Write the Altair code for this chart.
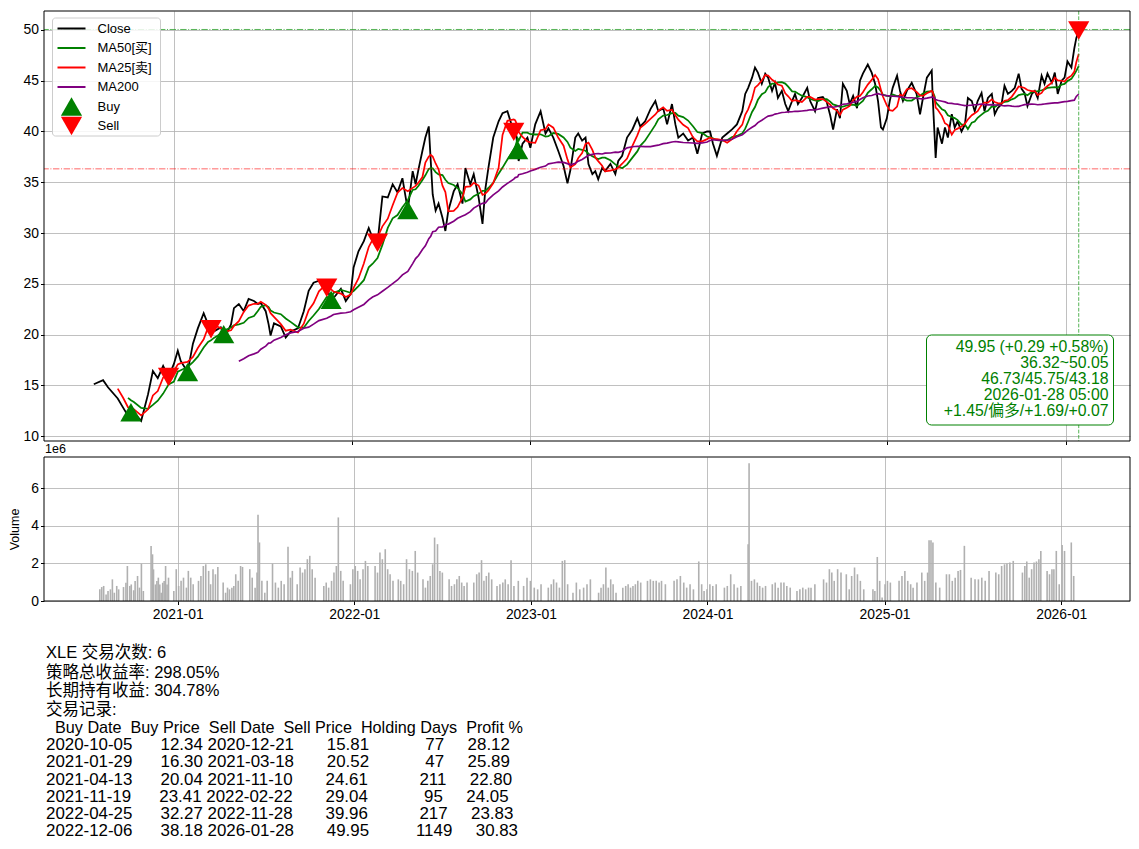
import altair as alt
import pandas as pd

FONT = "Liberation Sans, Noto Sans CJK SC, sans-serif"

# ---------------- data ----------------
close_dates = [
    "2020-07-21", "2020-08-09", "2020-08-19", "2020-09-08", "2020-09-19", "2020-09-29", "2020-10-05",
    "2020-10-11", "2020-10-26", "2020-11-09", "2020-11-19", "2020-11-29", "2020-12-10", "2020-12-21",
    "2021-01-01", "2021-01-09", "2021-01-15", "2021-01-29", "2021-02-09", "2021-02-19", "2021-03-03", "2021-03-12",
    "2021-03-18", "2021-03-24", "2021-04-07", "2021-04-13", "2021-04-17", "2021-04-28", "2021-05-04", "2021-05-14",
    "2021-05-24", "2021-06-03", "2021-06-14", "2021-06-22", "2021-06-28", "2021-07-08", "2021-07-14", "2021-07-18",
    "2021-07-25", "2021-08-08", "2021-08-18", "2021-08-28", "2021-09-12", "2021-09-24", "2021-10-04", "2021-10-14",
    "2021-10-25", "2021-11-10", "2021-11-19", "2021-11-24", "2021-12-09", "2021-12-19", "2021-12-29",
    "2022-01-04", "2022-01-14", "2022-01-25", "2022-02-04", "2022-02-12", "2022-02-22", "2022-03-04", "2022-03-15",
    "2022-03-25", "2022-04-04", "2022-04-14", "2022-04-25", "2022-05-05", "2022-05-11", "2022-05-17", "2022-05-25",
    "2022-05-31", "2022-06-07", "2022-06-11", "2022-06-15", "2022-06-21", "2022-06-27", "2022-07-05", "2022-07-11",
    "2022-07-17", "2022-07-28", "2022-08-05", "2022-08-15", "2022-08-21", "2022-08-31", "2022-09-07", "2022-09-17",
    "2022-09-25", "2022-10-01", "2022-10-07", "2022-10-17", "2022-10-28", "2022-11-05", "2022-11-15", "2022-11-28",
    "2022-12-01", "2022-12-06", "2022-12-08", "2022-12-16", "2022-12-26",
    "2023-01-01", "2023-01-11", "2023-01-22", "2023-02-01", "2023-02-07", "2023-02-17", "2023-02-27", "2023-03-10",
    "2023-03-18", "2023-03-24", "2023-04-03", "2023-04-09", "2023-04-17", "2023-04-24", "2023-04-30", "2023-05-08",
    "2023-05-14", "2023-05-20", "2023-05-28", "2023-06-03", "2023-06-14", "2023-06-24", "2023-06-30", "2023-07-08",
    "2023-07-18", "2023-07-29", "2023-08-08", "2023-08-14", "2023-08-24", "2023-09-04", "2023-09-14", "2023-09-20",
    "2023-09-30", "2023-10-08", "2023-10-18", "2023-10-25", "2023-10-31", "2023-11-10", "2023-11-20", "2023-11-30",
    "2023-12-09", "2023-12-19", "2023-12-29",
    "2024-01-04", "2024-01-10", "2024-01-18", "2024-01-29", "2024-02-08", "2024-02-18", "2024-02-28", "2024-03-10",
    "2024-03-16", "2024-03-22", "2024-03-30", "2024-04-05", "2024-04-11", "2024-04-19", "2024-04-26", "2024-05-02",
    "2024-05-10", "2024-05-16", "2024-05-22", "2024-05-30", "2024-06-06", "2024-06-12", "2024-06-20", "2024-06-26",
    "2024-07-02", "2024-07-10", "2024-07-21", "2024-07-27", "2024-08-06", "2024-08-12", "2024-08-22", "2024-08-30",
    "2024-09-06", "2024-09-12", "2024-09-20", "2024-09-26", "2024-10-02", "2024-10-10", "2024-10-16", "2024-10-23",
    "2024-10-31", "2024-11-06", "2024-11-12", "2024-11-22", "2024-11-30", "2024-12-07", "2024-12-13", "2024-12-19",
    "2024-12-23", "2024-12-31",
    "2025-01-06", "2025-01-12", "2025-01-21", "2025-01-27", "2025-02-02", "2025-02-10", "2025-02-20", "2025-03-02",
    "2025-03-09", "2025-03-15", "2025-03-23", "2025-04-02", "2025-04-04", "2025-04-08", "2025-04-10", "2025-04-14",
    "2025-04-23", "2025-04-29", "2025-05-05", "2025-05-13", "2025-05-19", "2025-05-25", "2025-06-02", "2025-06-09",
    "2025-06-15", "2025-06-23", "2025-06-29", "2025-07-05", "2025-07-13", "2025-07-19", "2025-07-26", "2025-08-03",
    "2025-08-09", "2025-08-15", "2025-08-23", "2025-08-29", "2025-09-05", "2025-09-13", "2025-09-19", "2025-09-27",
    "2025-10-03", "2025-10-09", "2025-10-15", "2025-10-24", "2025-10-30", "2025-11-05", "2025-11-13", "2025-11-19",
    "2025-11-25", "2025-12-04", "2025-12-10", "2025-12-16", "2025-12-24", "2025-12-30",
    "2026-01-05", "2026-01-13", "2026-01-19", "2026-01-23", "2026-01-28",
]
close_values = [
    15.1, 15.5, 14.8, 13.7, 12.8, 12.0, 12.34,
    12.3, 11.5, 14.1, 16.4, 15.7, 16.9, 15.81,
    17.1, 18.4, 17.4, 16.30, 19.1, 20.6, 22.1, 21.0,
    20.52, 20.3, 20.7, 20.04, 19.9, 21.0, 22.6, 23.0,
    22.3, 23.5, 23.3, 23.0, 23.1, 22.3, 21.0, 19.9,
    21.1, 20.8, 19.7, 20.3, 20.6, 22.3, 24.3, 25.1,
    25.3, 24.61, 23.41, 23.6, 24.5, 23.3, 24.0,
    26.6, 28.2, 29.2, 30.5, 29.5, 29.04, 33.6, 33.5,
    34.8, 34.0, 35.4, 32.27, 36.1, 34.8, 36.3, 38.1,
    39.4, 40.5, 37.1, 33.8, 32.2, 32.9, 31.5, 30.2,
    32.2, 34.1, 34.8, 32.9, 36.4, 34.8, 35.8, 33.5,
    30.9, 34.4, 36.4, 39.4, 41.0, 41.8, 42.0, 39.96,
    40.7, 38.18, 37.1, 38.8, 39.4,
    38.4, 40.7, 42.0, 39.8, 40.3, 39.4, 38.1, 36.6,
    34.9, 36.2, 39.4, 39.8, 39.1, 39.4, 36.8, 35.8,
    36.1, 35.3, 36.4, 36.1, 36.8, 35.8, 37.1, 37.6,
    39.4, 40.2, 41.3, 40.5, 41.0, 42.2, 43.0, 42.0,
    42.3, 40.7, 42.7, 40.7, 39.4, 39.8, 39.1, 39.4,
    37.8, 39.8, 40.0,
    40.0, 38.8, 37.6, 39.4, 39.8, 40.2, 40.7, 42.0,
    43.7, 44.3, 45.3, 46.3, 45.8, 44.7, 45.7, 45.3,
    44.0, 44.8, 43.3, 44.0, 42.7, 42.0, 43.0, 43.7,
    42.7, 43.3, 44.3, 43.0, 42.0, 43.3, 43.4, 42.9,
    41.6, 40.2, 42.2, 41.3, 44.7, 44.0, 42.7, 43.5,
    42.3, 45.0, 45.7, 46.6, 45.8, 44.7, 43.0, 40.4,
    40.2, 41.3,
    43.0, 44.3, 45.5, 44.0, 43.0, 44.0, 44.8, 43.7,
    41.7, 43.3, 45.3, 46.0, 43.3, 39.4, 37.4, 40.4,
    38.8, 40.4, 39.4, 41.7, 40.4, 41.0, 40.0, 40.7,
    43.3, 43.0, 42.0, 43.0, 43.8, 42.0, 43.3, 43.7,
    41.7, 42.3, 42.7, 44.5, 43.7, 44.0, 44.3, 45.7,
    44.2, 43.8, 42.5, 43.7, 44.0, 43.3, 45.5, 44.7,
    45.7, 44.8, 45.8, 43.7, 45.0, 45.3,
    46.9, 46.3, 48.2, 49.2, 49.95,
]

vol_dates = [
    "2020-07-24", "2020-07-28", "2020-08-01", "2020-08-06", "2020-08-10", "2020-08-15", "2020-08-19", "2020-08-23", "2020-08-28", "2020-09-01",
    "2020-09-11", "2020-09-16", "2020-09-19", "2020-09-24", "2020-09-27", "2020-10-02", "2020-10-05", "2020-10-10", "2020-10-14", "2020-10-18", "2020-10-22",
    "2020-11-07", "2020-11-10", "2020-11-12", "2020-11-16", "2020-11-19", "2020-11-22", "2020-11-25", "2020-11-28", "2020-12-01", "2020-12-04", "2020-12-07", "2020-12-10", "2020-12-13",
    "2020-12-24", "2020-12-29",
    "2021-01-03", "2021-01-08", "2021-01-13", "2021-01-19", "2021-01-23", "2021-01-28", "2021-02-02",
    "2021-02-13", "2021-02-18", "2021-02-23", "2021-02-28", "2021-03-06", "2021-03-10", "2021-03-15", "2021-03-20", "2021-03-25",
    "2021-04-05", "2021-04-10", "2021-04-14", "2021-04-18", "2021-04-23", "2021-04-27", "2021-05-01", "2021-05-06", "2021-05-11", "2021-05-15",
    "2021-05-30", "2021-06-04", "2021-06-10", "2021-06-14", "2021-06-16", "2021-06-19", "2021-06-24", "2021-06-30", "2021-07-05",
    "2021-07-16", "2021-07-22", "2021-07-28", "2021-08-03", "2021-08-09", "2021-08-17", "2021-08-22", "2021-08-26",
    "2021-09-05", "2021-09-11", "2021-09-16", "2021-09-21", "2021-09-26", "2021-10-01", "2021-10-06", "2021-10-12",
    "2021-10-30", "2021-11-04", "2021-11-09", "2021-11-15", "2021-11-20", "2021-11-25", "2021-11-29", "2021-12-04", "2021-12-09",
    "2021-12-24", "2021-12-29",
    "2022-01-03", "2022-01-08", "2022-01-13", "2022-01-19", "2022-01-24", "2022-01-29",
    "2022-02-13", "2022-02-18", "2022-02-23", "2022-02-28", "2022-03-06", "2022-03-11", "2022-03-16", "2022-03-22",
    "2022-04-02", "2022-04-07", "2022-04-13", "2022-04-19", "2022-04-25", "2022-05-01", "2022-05-07", "2022-05-12",
    "2022-05-23", "2022-05-28", "2022-06-02", "2022-06-07", "2022-06-12", "2022-06-16", "2022-06-22", "2022-06-27", "2022-07-02",
    "2022-07-16", "2022-07-21", "2022-07-27", "2022-08-01", "2022-08-06", "2022-08-11", "2022-08-16", "2022-08-22",
    "2022-09-05", "2022-09-11", "2022-09-16", "2022-09-21", "2022-09-26", "2022-10-01", "2022-10-06", "2022-10-12",
    "2022-10-23", "2022-10-29", "2022-11-04", "2022-11-09", "2022-11-15", "2022-11-21", "2022-11-27", "2022-12-06",
    "2022-12-17", "2022-12-24", "2022-12-31",
    "2023-01-08", "2023-01-15", "2023-01-22",
    "2023-02-06", "2023-02-12", "2023-02-17", "2023-02-23", "2023-03-01", "2023-03-07", "2023-03-12", "2023-03-18",
    "2023-03-29", "2023-04-05", "2023-04-12", "2023-04-20", "2023-04-27", "2023-05-04",
    "2023-05-21", "2023-05-26", "2023-05-31", "2023-06-05", "2023-06-10", "2023-06-15", "2023-06-20", "2023-06-26",
    "2023-07-10", "2023-07-16", "2023-07-21", "2023-07-26", "2023-07-31", "2023-08-05", "2023-08-10", "2023-08-16",
    "2023-08-30", "2023-09-05", "2023-09-11", "2023-09-17", "2023-09-23", "2023-09-28", "2023-10-06",
    "2023-10-24", "2023-10-30", "2023-11-06", "2023-11-13", "2023-11-19", "2023-11-26", "2023-12-03",
    "2023-12-14", "2023-12-20", "2023-12-25", "2023-12-31",
    "2024-01-06", "2024-01-12", "2024-01-19",
    "2024-02-05", "2024-02-11", "2024-02-18", "2024-02-25", "2024-03-03", "2024-03-10",
    "2024-03-25", "2024-03-27", "2024-04-01", "2024-04-07", "2024-04-13", "2024-04-18", "2024-04-24", "2024-04-30",
    "2024-05-14", "2024-05-20", "2024-05-26", "2024-06-01", "2024-06-07", "2024-06-13", "2024-06-20",
    "2024-07-04", "2024-07-10", "2024-07-16", "2024-07-22", "2024-07-28", "2024-08-02", "2024-08-10",
    "2024-08-28", "2024-09-03", "2024-09-09", "2024-09-14", "2024-09-19", "2024-09-26", "2024-10-03",
    "2024-10-14", "2024-10-20", "2024-10-25", "2024-10-31", "2024-11-06", "2024-11-12", "2024-11-19",
    "2024-12-08", "2024-12-12", "2024-12-17", "2024-12-22", "2024-12-27",
    "2025-01-02", "2025-01-07", "2025-01-13",
    "2025-01-31", "2025-02-06", "2025-02-12", "2025-02-18", "2025-02-24", "2025-03-01", "2025-03-09",
    "2025-03-19", "2025-03-25", "2025-03-31", "2025-04-03", "2025-04-07", "2025-04-11", "2025-04-17", "2025-04-25",
    "2025-05-09", "2025-05-15", "2025-05-21", "2025-05-27", "2025-06-02", "2025-06-07", "2025-06-15",
    "2025-06-29", "2025-07-07", "2025-07-14", "2025-07-21", "2025-07-28", "2025-08-05",
    "2025-08-19", "2025-08-25", "2025-08-31", "2025-09-06", "2025-09-11", "2025-09-17", "2025-09-24",
    "2025-10-13", "2025-10-18", "2025-10-22", "2025-10-27", "2025-11-01", "2025-11-06", "2025-11-11", "2025-11-16", "2025-11-20",
    "2025-12-03", "2025-12-08", "2025-12-13", "2025-12-17", "2025-12-22", "2025-12-28",
    "2026-01-03", "2026-01-08", "2026-01-22", "2026-01-27",
]
vol_millions = [
    0.62, 0.74, 0.80, 0.35, 0.53, 0.62, 1.15, 0.44, 0.80, 0.62,
    0.74, 0.97, 1.86, 0.80, 0.88, 0.57, 1.06, 1.33, 0.71, 1.98, 0.53,
    2.92, 2.48, 1.68, 0.88, 1.06, 1.24, 0.88, 0.44, 0.97, 1.06, 1.86, 0.88, 1.24,
    0.53, 1.69,
    0.80, 1.07, 1.24, 0.71, 1.60, 1.24, 0.89,
    1.07, 1.33, 1.86, 1.95, 1.60, 0.89, 1.69, 1.42, 1.81,
    0.98, 0.44, 0.71, 0.62, 0.71, 0.80, 1.42, 1.07, 1.86, 1.81,
    1.69, 1.24, 0.71, 1.51, 4.58, 3.11, 1.07, 0.44, 1.07,
    1.99, 0.98, 0.71, 1.07, 0.89, 2.88, 1.24, 1.60,
    0.89, 1.78, 1.51, 1.69, 2.22, 2.40, 1.69, 1.24,
    0.80, 0.98, 0.71, 1.07, 1.51, 1.86, 4.44, 1.60, 1.07,
    0.89, 1.69,
    1.86, 1.60, 1.15, 1.69, 2.13, 1.86,
    1.86, 1.51, 2.58, 2.22, 2.75, 1.69, 1.42, 1.07,
    1.15, 1.07, 0.89, 2.22, 1.69, 1.60, 2.66, 1.51,
    1.15, 0.71, 1.07, 1.33, 1.95, 3.37, 3.02, 1.60, 1.51,
    1.15, 0.80, 0.89, 1.15, 1.33, 0.98, 0.80, 0.98,
    0.98, 1.42, 1.51, 2.17, 1.07, 1.33, 1.51, 1.15,
    0.80, 0.89, 0.98, 1.15, 0.89, 2.17, 0.80, 1.07,
    0.80, 1.24, 1.07,
    0.71, 0.62, 0.89,
    0.71, 0.89, 1.15, 0.98, 0.71, 2.13, 2.17, 0.89,
    0.44, 0.98, 0.62, 0.71, 0.89, 1.15,
    0.44, 0.71, 0.89, 1.78, 0.71, 1.15, 0.89, 0.44,
    0.71, 0.80, 0.89, 0.71, 0.80, 0.89, 1.07, 0.98,
    1.07, 1.15, 1.07, 1.07, 0.98, 1.07, 0.89,
    1.07, 1.15, 1.33, 0.98, 0.71, 0.89, 0.62,
    2.10, 0.89, 0.53, 0.62,
    0.89, 0.80, 0.89,
    0.71, 0.80, 1.42, 0.89, 0.71, 0.80,
    3.02, 7.32, 1.07, 1.15, 0.98, 0.80, 0.71, 0.80,
    0.89, 0.98, 0.71, 0.98, 0.98, 0.80, 0.71,
    0.53, 0.62, 0.71, 0.62, 0.71, 0.71, 0.89,
    1.15, 0.98, 1.69, 1.51, 1.07, 1.69, 1.51,
    1.42, 0.62, 1.33, 1.78, 1.42, 1.07, 0.62,
    0.62, 0.53, 2.34, 1.07, 0.18,
    0.89, 1.07, 0.98,
    1.07, 1.33, 1.60, 1.07, 0.89, 0.71, 0.98,
    1.51, 1.07, 1.51, 3.23, 3.23, 3.11, 0.98, 0.71,
    1.42, 1.42, 1.07, 1.24, 1.60, 1.65, 2.93,
    1.24, 1.15, 1.15, 1.24, 1.07, 1.60,
    1.51, 1.42, 1.86, 1.95, 1.99, 2.04, 2.13,
    1.51, 1.86, 2.10, 1.24, 1.69, 2.04, 2.10, 2.22, 2.66,
    1.60, 1.42, 1.69, 1.69, 2.66, 0.89,
    2.98, 2.66, 3.11, 1.33,
]

buy_dates = ["2020-10-05", "2021-01-29", "2021-04-13", "2021-11-19", "2022-04-25", "2022-12-06"]
buy_prices = [12.34, 16.30, 20.04, 23.41, 32.27, 38.18]
sell_dates = ["2020-12-21", "2021-03-18", "2021-11-10", "2022-02-22", "2022-11-28", "2026-01-28"]
sell_prices = [15.81, 20.52, 24.61, 29.04, 39.96, 49.95]
holding_days = [77, 47, 211, 95, 217, 1149]
profit_pct = [28.12, 25.89, 22.80, 24.05, 23.83, 30.83]

level_high = 50.05
level_low = 36.32
last_date = "2026-01-28"

series_names = ["Close", "MA50[买]", "MA25[卖]", "MA200", "Buy", "Sell"]
series_colors = ["black", "green", "red", "purple", "green", "red"]
series_widths = [1.8, 1.6, 1.6, 1.6, 1.6, 1.6]
legend_kinds = ["line", "line", "line", "line", "triangle-up", "triangle-down"]

info_lines = ["49.95 (+0.29 +0.58%)", "36.32~50.05", "46.73/45.75/43.18",
              "2026-01-28 05:00", "+1.45/偏多/+1.69/+0.07"]
summary_lines = ["XLE 交易次数: 6", "策略总收益率: 298.05%", "长期持有收益: 304.78%", "交易记录:"]
table_headers = ["Buy Date", "Buy Price", "Sell Date", "Sell Price", "Holding Days", "Profit %"]

year_ticks = ["2021-01-01", "2022-01-01", "2023-01-01", "2024-01-01", "2025-01-01", "2026-01-01"]
price_ticks = [10, 15, 20, 25, 30, 35, 40, 45, 50]
volume_ticks = [0, 2, 4, 6]
x_range = ["2020-04-10", "2026-05-13"]
price_range = [9.51, 51.87]
volume_range = [0, 7.65]

# ---------------- layout constants ----------------
W = 1086
H_PRICE = 430
H_VOL = 144
H_TEXT = 220
TEXT_LINE_Y = [35.7, 55.7, 74.0, 93.0, 110.9, 128.3, 145.4, 162.6, 179.7, 196.9, 214.0]
TEXT_SIZES = [16.5, 16.5, 16.5, 16.5, 16.2, 16.9, 16.9, 16.9, 16.9, 16.9, 16.9]


def dt(s):
    y, m, d = (int(p) for p in s.split("-"))
    return alt.DateTime(year=y, month=m, date=d)


# ---------------- tables ----------------
close_s = pd.Series(close_values, index=pd.to_datetime(close_dates))
frames = [pd.DataFrame({"date": close_s.index, "value": close_s.values, "series": "Close"})]
for name, win, lead in [("MA50[买]", 70, 70), ("MA25[卖]", 35, 30), ("MA200", 288, 288)]:
    m = close_s.rolling(f"{win}D").mean()
    m = m[m.index >= close_s.index[0] + pd.Timedelta(days=lead)]
    frames.append(pd.DataFrame({"date": m.index, "value": m.values, "series": name}))
lines_df = pd.concat(frames, ignore_index=True)

markers_df = pd.DataFrame({
    "date": pd.to_datetime(buy_dates + sell_dates),
    "value": buy_prices + sell_prices,
    "series": ["Buy"] * len(buy_dates) + ["Sell"] * len(sell_dates),
})

vol_df = pd.DataFrame({"date": pd.to_datetime(vol_dates[:len(vol_millions)]),
                       "volume": vol_millions[:len(vol_dates)]})

x_scale = alt.Scale(domain=[dt(x_range[0]), dt(x_range[1])])
y_price = alt.Scale(domain=price_range, nice=False, zero=False)
color_scale = alt.Scale(domain=series_names, range=series_colors)
tick_vals = [dt(s) for s in year_ticks]

price_x_axis = alt.Axis(values=tick_vals, labels=False, ticks=True, grid=True, title=None, domain=False)
price_y_axis = alt.Axis(values=price_ticks, grid=True, title=None, domain=False, minExtent=22, labelPadding=2)

X = alt.X("date:T", scale=x_scale, axis=price_x_axis)
Y = alt.Y("value:Q", scale=y_price, axis=price_y_axis)

lines = alt.Chart(lines_df).mark_line().encode(
    x=X, y=Y,
    color=alt.Color("series:N", scale=color_scale, legend=None),
    strokeWidth=alt.StrokeWidth("series:N", scale=alt.Scale(domain=series_names, range=series_widths), legend=None),
)

rule_hi = alt.Chart(pd.DataFrame({"value": [level_high]})).mark_rule(
    color="#2ca02c", strokeWidth=1, strokeDash=[6.4, 1.6, 1, 1.6], opacity=0.8
).encode(y=Y)
rule_lo = alt.Chart(pd.DataFrame({"value": [level_low]})).mark_rule(
    color="red", strokeWidth=1, strokeDash=[6.4, 1.6, 1, 1.6], opacity=0.6
).encode(y=Y)
rule_last = alt.Chart(pd.DataFrame({"date": pd.to_datetime([last_date])})).mark_rule(
    color="#2ca02c", strokeWidth=1, strokeDash=[3.7, 1.6], opacity=0.8
).encode(x=X)

markers = alt.Chart(markers_df).mark_point(filled=True, size=450, opacity=1).encode(
    x=X, y=Y,
    color=alt.Color("series:N", scale=color_scale, legend=None),
    shape=alt.Shape("series:N", scale=alt.Scale(domain=["Buy", "Sell"], range=["triangle-up", "triangle-down"]), legend=None),
)

one = pd.DataFrame({"k": [0]})

# annotation box (bottom-right)
info_box = alt.Chart(one).mark_rect(fill="white", stroke="green", strokeWidth=1, cornerRadius=5).encode(
    x=alt.value(882.5), x2=alt.value(1069.5), y=alt.value(324), y2=alt.value(414)
)
info_df = pd.DataFrame({"text": info_lines, "py": [336 + 16 * i for i in range(len(info_lines))]})
info_text = alt.Chart(info_df).mark_text(align="right", baseline="middle", fontSize=15.8, font=FONT, color="green").encode(
    x=alt.value(1064.5), y=alt.Y("py:Q", scale=None), text="text:N"
)

# legend (top-left)
legend_df = pd.DataFrame({"name": series_names, "color": series_colors, "kind": legend_kinds,
                          "py": [17.5 + 19.5 * i for i in range(len(series_names))]})
legend_box = alt.Chart(one).mark_rect(fill="white", fillOpacity=0.85, stroke="#cccccc", strokeWidth=1, cornerRadius=3).encode(
    x=alt.value(8.5), x2=alt.value(116.5), y=alt.value(7), y2=alt.value(125)
)
legend_lines = alt.Chart(legend_df[legend_df["kind"] == "line"]).mark_rule(strokeWidth=2).encode(
    x=alt.value(13.5), x2=alt.value(41.5), y=alt.Y("py:Q", scale=None), color=alt.Color("color:N", scale=None)
)
legend_marks = alt.Chart(legend_df[legend_df["kind"] != "line"]).mark_point(filled=True, size=450, opacity=1).encode(
    x=alt.value(27.5), y=alt.Y("py:Q", scale=None), color=alt.Color("color:N", scale=None),
    shape=alt.Shape("kind:N", scale=None)
)
legend_text = alt.Chart(legend_df).mark_text(align="left", baseline="middle", fontSize=13, font=FONT, color="black").encode(
    x=alt.value(53.5), y=alt.Y("py:Q", scale=None), text="name:N"
)

price_frame = alt.Chart(one).mark_rect(fill="transparent", stroke="black", strokeWidth=1).encode(
    x=alt.value(0), x2=alt.value(W), y=alt.value(0), y2=alt.value(H_PRICE)
)

price = alt.layer(
    lines, rule_hi, rule_lo, rule_last, markers, info_box, info_text,
    legend_box, legend_lines, legend_marks, legend_text, price_frame,
).properties(width=W, height=H_PRICE)

# volume panel
vol_bars = alt.Chart(vol_df).mark_bar(width=1.6, color="#b0b0b0").encode(
    x=alt.X("date:T", scale=x_scale,
            axis=alt.Axis(values=tick_vals, format="%Y-%m", grid=True, title=None, domain=False, labelPadding=3)),
    y=alt.Y("volume:Q", scale=alt.Scale(domain=volume_range, nice=False),
            axis=alt.Axis(values=volume_ticks, grid=True, title="Volume", titleFontSize=12.5, titlePadding=1,
                          domain=False, minExtent=22, labelPadding=2)),
)
vol_frame = alt.Chart(one).mark_rect(fill="transparent", stroke="black", strokeWidth=1).encode(
    x=alt.value(0), x2=alt.value(W), y=alt.value(0), y2=alt.value(H_VOL)
)
volume = alt.layer(vol_bars, vol_frame).properties(
    width=W, height=H_VOL,
    title=alt.TitleParams("1e6", anchor="start", frame="group", fontSize=12.5, font=FONT,
                          fontWeight="normal", color="black", offset=1, dx=1),
)

# text block below
NB = "\u00a0"
ZW = "\u200b"
header = f"{table_headers[0]:>10} {table_headers[1]:>10} {table_headers[2]:>10} {table_headers[3]:>11} {table_headers[4]:>13} {table_headers[5]:>9}"
rows = [f"{bd:>10} {bp:>10.2f} {sd:>10} {sp:>11.2f} {hd:>13d} {pf:>9.2f}"
        for bd, bp, sd, sp, hd, pf in zip(buy_dates, buy_prices, sell_dates, sell_prices, holding_days, profit_pct)]
all_lines = summary_lines + [header] + rows
text_df = pd.DataFrame({"py": TEXT_LINE_Y[:len(all_lines)],
                        "fs": TEXT_SIZES[:len(all_lines)],
                        "text": [ZW + s.replace(" ", NB) for s in all_lines]})
text_chart = alt.Chart(text_df).mark_text(align="left", baseline="middle", font=FONT, color="black").encode(
    x=alt.value(2),
    y=alt.Y("py:Q", scale=None),
    size=alt.Size("fs:Q", scale=None),
    text="text:N",
).properties(width=W, height=H_TEXT)

chart = alt.vconcat(price, volume, text_chart, spacing=16, bounds="flush").properties(
    padding={"left": 0, "top": 2, "right": 0, "bottom": 0}
).configure(font=FONT).configure_view(stroke=None).configure_axis(
    labelFont=FONT, labelFontSize=13.9, labelColor="black", tickColor="black", tickSize=3.5,
    gridColor="#b0b0b0", gridWidth=0.8, titleFont=FONT, titleFontWeight="normal", titleColor="black",
)

chart.save("out.html", embed_options={"renderer": "svg", "actions": False})
